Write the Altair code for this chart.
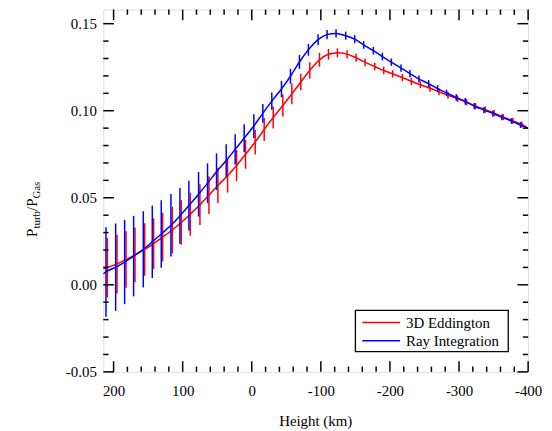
import altair as alt
import pandas as pd

# ---- data ----
heights_ray = [215, 211, 197, 184, 171, 157, 144, 131, 117, 104, 91, 77, 64, 51, 37, 24, 11,
               -3, -16, -29, -43, -56, -69, -82, -96, -109, -122, -136, -149, -162, -176,
               -189, -202, -216, -229, -242, -256, -269, -282, -296, -309, -322, -336,
               -349, -362, -376, -389, -400]
ray_integration = [0.0062, 0.0074, 0.0101, 0.0131, 0.0165, 0.0204, 0.0247, 0.0292, 0.0342,
                   0.0396, 0.0455, 0.0520, 0.0584, 0.0650, 0.0714, 0.0778, 0.0842,
                   0.0912, 0.0985, 0.1055, 0.1125, 0.1198, 0.1280, 0.1350, 0.1408, 0.1437,
                   0.1444, 0.1431, 0.1411, 0.1378, 0.1345, 0.1311, 0.1279, 0.1245, 0.1213,
                   0.1182, 0.1156, 0.1127, 0.1102, 0.1076, 0.1054, 0.1027, 0.1004, 0.0984,
                   0.0962, 0.0941, 0.0918, 0.0899]
ray_err = [0.0, 0.0257, 0.0251, 0.0242, 0.0231, 0.0219, 0.0208, 0.0194, 0.0180, 0.0160,
           0.0143, 0.0128, 0.0114, 0.0105, 0.0094, 0.0087, 0.0080, 0.0068, 0.0054, 0.0050,
           0.0047, 0.0043, 0.0040, 0.0034, 0.0031, 0.0026, 0.0024, 0.0023, 0.0023, 0.0022,
           0.0022, 0.0022, 0.0021, 0.0021, 0.0021, 0.0020, 0.0020, 0.0020, 0.0019, 0.0019,
           0.0019, 0.0018, 0.0018, 0.0018, 0.0017, 0.0017, 0.0017, 0.0]

heights_edd = [215, 209, 195, 182, 169, 155, 142, 129, 115, 102, 89, 75, 62, 49, 35, 22, 9,
               -5, -18, -31, -45, -58, -71, -84, -98, -111, -124, -138, -151, -164, -178,
               -191, -204, -218, -231, -244, -258, -271, -284, -298, -311, -324, -338,
               -351, -364, -378, -391, -400]
eddington = [0.0093, 0.0099, 0.0120, 0.0145, 0.0172, 0.0203, 0.0237, 0.0274, 0.0315, 0.0358,
             0.0405, 0.0460, 0.0515, 0.0571, 0.0627, 0.0685, 0.0750, 0.0820, 0.0892,
             0.0961, 0.1030, 0.1097, 0.1165, 0.1232, 0.1292, 0.1324, 0.1333, 0.1325,
             0.1304, 0.1278, 0.1254, 0.1231, 0.1212, 0.1190, 0.1169, 0.1149, 0.1129,
             0.1109, 0.1088, 0.1069, 0.1049, 0.1026, 0.1006, 0.0986, 0.0964, 0.0942,
             0.0921, 0.0899]
edd_err = [0.0, 0.0171, 0.0168, 0.0162, 0.0157, 0.0151, 0.0145, 0.0140, 0.0134, 0.0128,
           0.0123, 0.0117, 0.0108, 0.0101, 0.0097, 0.0090, 0.0083, 0.0071, 0.0066, 0.0063,
           0.0063, 0.0060, 0.0048, 0.0047, 0.0040, 0.0031, 0.0026, 0.0023, 0.0023, 0.0022,
           0.0022, 0.0022, 0.0021, 0.0021, 0.0021, 0.0020, 0.0020, 0.0020, 0.0019, 0.0019,
           0.0019, 0.0018, 0.0018, 0.0018, 0.0017, 0.0017, 0.0017, 0.0]

x_major = [200, 100, 0, -100, -200, -300, -400]
x_minor = [180, 160, 140, 120, 80, 60, 40, 20, -20, -40, -60, -80, -120, -140, -160, -180,
           -220, -240, -260, -280, -320, -340, -360, -380]
y_major = [-0.05, 0.0, 0.05, 0.10, 0.15]
y_minor = [-0.04, -0.03, -0.02, -0.01, 0.01, 0.02, 0.03, 0.04, 0.06, 0.07, 0.08, 0.09,
           0.11, 0.12, 0.13, 0.14]

series_names = ["3D Eddington", "Ray Integration"]
series_colors = ["#ff0000", "#0000ff"]

# ---- layout ----
W, H = 428, 365
FONT = "Liberation Serif"
MAJ, MIN = 10.7, 5.3

xscale = alt.Scale(domain=[214.9, -400], nice=False, zero=False)
yscale = alt.Scale(domain=[-0.05, 0.1581], nice=False, zero=False)
xaxis = alt.Axis(title=None, values=x_major, ticks=False, domain=False, grid=False,
                 labelFont=FONT, labelFontSize=15, labelColor="black", labelPadding=12,
                 labelFlush=False, labelOverlap=False,
                 labelExpr="datum.value < 0 ? '-' + format(-datum.value, 'd') : format(datum.value, 'd')")
yaxis = alt.Axis(title=None, values=y_major, ticks=False, domain=False, grid=False,
                 labelFont=FONT, labelFontSize=15, labelColor="black", labelPadding=7,
                 labelFlush=False, labelOverlap=False,
                 labelExpr="datum.value < 0 ? '-' + format(-datum.value, '.2f') : format(datum.value, '.2f')")

df_edd = pd.DataFrame({"h": heights_edd, "v": eddington, "e": edd_err})
df_ray = pd.DataFrame({"h": heights_ray, "v": ray_integration, "e": ray_err})


def X(field="h"):
    return alt.X(f"{field}:Q", scale=xscale, axis=xaxis)


def Y(field="v"):
    return alt.Y(f"{field}:Q", scale=yscale, axis=yaxis)


def series(df, color):
    line = alt.Chart(df).mark_line(color=color, strokeWidth=1.5, clip=True,
                                   interpolate="monotone").encode(x=X(), y=Y())
    bars = alt.Chart(df).transform_filter("datum.e > 0").transform_calculate(
        lo="datum.v - datum.e", hi="datum.v + datum.e"
    ).mark_rule(color=color, strokeWidth=1.5).encode(x=X(), y=Y("lo"), y2="hi:Q")
    return [line, bars]


layers = []
layers += series(df_edd, series_colors[0])
layers += series(df_ray, series_colors[1])

# ticks (inward, on all four sides)
dfx_maj = pd.DataFrame({"h": x_major})
dfx_min = pd.DataFrame({"h": x_minor})
dfy_maj = pd.DataFrame({"v": y_major})
dfy_min = pd.DataFrame({"v": y_minor})
tick = dict(color="black", strokeWidth=1.5)
for dfx, L in [(dfx_maj, MAJ), (dfx_min, MIN)]:
    layers.append(alt.Chart(dfx).mark_rule(**tick).encode(
        x=X(), y=alt.value(H), y2=alt.value(H - L)))
    layers.append(alt.Chart(dfx).mark_rule(**tick).encode(
        x=X(), y=alt.value(0), y2=alt.value(L)))
for dfy, L in [(dfy_maj, MAJ), (dfy_min, MIN)]:
    layers.append(alt.Chart(dfy).mark_rule(**tick).encode(
        y=Y(), x=alt.value(0), x2=alt.value(L)))
    layers.append(alt.Chart(dfy).mark_rule(**tick).encode(
        y=Y(), x=alt.value(W), x2=alt.value(W - L)))

one = pd.DataFrame({"a": [0]})

# legend
layers.append(alt.Chart(one).mark_rect(fill="white", stroke="black", strokeWidth=1.3).encode(
    x=alt.value(254), x2=alt.value(408), y=alt.value(303), y2=alt.value(344.5)))
for name, color, ly in zip(series_names, series_colors, [315.3, 333.7]):
    layers.append(alt.Chart(one).mark_rule(color=color, strokeWidth=1.5).encode(
        x=alt.value(261), x2=alt.value(299), y=alt.value(ly)))
    layers.append(alt.Chart(one).mark_text(text=name, font=FONT, fontSize=15, color="black",
                                           align="left", baseline="alphabetic").encode(
        x=alt.value(305), y=alt.value(ly + 5)))

# axis titles
layers.append(alt.Chart(one).mark_text(text="Height (km)", font=FONT, fontSize=15, color="black",
                                       align="center", baseline="alphabetic").encode(
    x=alt.value(W / 2), y=alt.value(419.5)))

pieces = [("P", 15, 0), ("turb", 11, 3), ("/", 15, 0), ("P", 15, 0), ("Gas", 11, 3)]
em = {"P": 0.556, "t": 0.278, "u": 0.5, "r": 0.333, "b": 0.5, "/": 0.278,
      "G": 0.722, "a": 0.444, "s": 0.389}
ypos = 229.0
for txt, fs, shift in pieces:
    layers.append(alt.Chart(one).mark_text(text=txt, font=FONT, fontSize=fs, color="black",
                                           angle=270, align="left", baseline="alphabetic").encode(
        x=alt.value(-66.5 + shift), y=alt.value(ypos)))
    ypos -= sum(em[c] for c in txt) * fs

chart = alt.layer(*layers).properties(
    width=W, height=H,
    autosize=alt.AutoSizeParams(type="none"),
    padding={"left": 96, "top": 0, "right": 16, "bottom": 60},
).configure_view(stroke="black", strokeWidth=1.6).configure(background="white")

chart.save("out.html", embed_options={"renderer": "svg", "actions": False})
